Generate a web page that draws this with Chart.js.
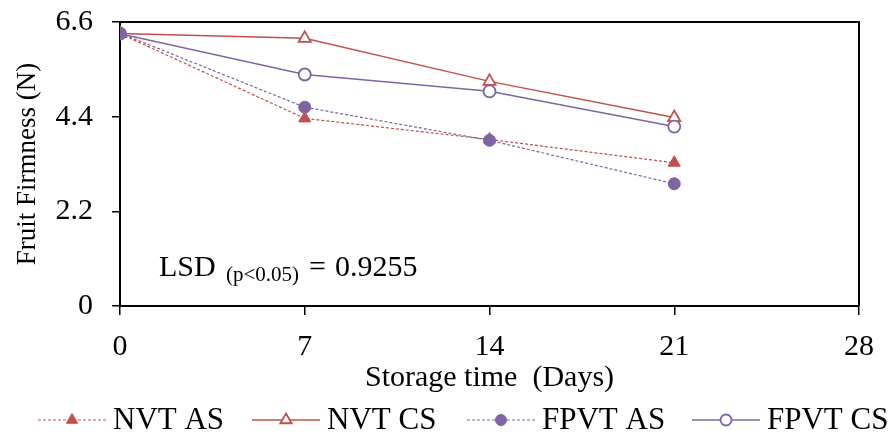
<!DOCTYPE html>
<html>
<head>
<meta charset="utf-8">
<script src="https://cdn.jsdelivr.net/npm/chart.js@4.4.1/dist/chart.umd.min.js"></script>
<style>
  html, body { margin: 0; padding: 0; background: #fff; }
  #wrap { width: 890px; height: 436px; position: relative; }
</style>
</head>
<body>
<div id="wrap"><canvas id="firmness"></canvas></div>
<script>
// Storage days and firmness readings (N)
const days = [0, 7, 14, 21];
const nvtAS = [6.33, 4.36, 3.87, 3.33];
const nvtCS = [6.33, 6.22, 5.22, 4.38];
const fpvtAS = [6.34, 4.62, 3.85, 2.84];
const fpvtCS = [6.33, 5.38, 4.99, 4.17];
const seriesNames = ['NVT AS', 'NVT CS', 'FPVT AS', 'FPVT CS'];
const yTicks = [0, 2.2, 4.4, 6.6];
const xTicks = [0, 7, 14, 21, 28];

const RED = '#C0504D';
const PURPLE = '#8064A2';
const FONT = "'Liberation Serif', 'Times New Roman', serif";

const toXY = vals => vals.map((v, i) => ({ x: days[i], y: v }));

const datasets = [
    {
        label: seriesNames[0], data: toXY(nvtAS), order: 2,
        borderColor: RED, borderWidth: 1.2, borderDash: [3, 2],
        pointStyle: 'triangle', pointRadius: 7, pointBackgroundColor: RED, pointBorderColor: RED, pointBorderWidth: 1
    },
    {
        label: seriesNames[1], data: toXY(nvtCS), order: 3,
        borderColor: RED, borderWidth: 1.5,
        pointStyle: 'triangle', pointRadius: 7, pointBackgroundColor: '#fff', pointBorderColor: RED, pointBorderWidth: 1.8
    },
    {
        label: seriesNames[2], data: toXY(fpvtAS), order: 0,
        borderColor: PURPLE, borderWidth: 1.2, borderDash: [3, 2],
        pointStyle: 'circle', pointRadius: 6, pointBackgroundColor: PURPLE, pointBorderColor: PURPLE, pointBorderWidth: 1
    },
    {
        label: seriesNames[3], data: toXY(fpvtCS), order: 1,
        borderColor: PURPLE, borderWidth: 1.5,
        pointStyle: 'circle', pointRadius: 6, pointBackgroundColor: '#fff', pointBorderColor: PURPLE, pointBorderWidth: 1.8
    }
];

// frame on top/right, LSD note and legend row
const extras = {
    id: 'extras',
    afterDraw(chart) {
        const { ctx, chartArea: a } = chart;
        ctx.save();
        ctx.strokeStyle = '#000';
        ctx.lineWidth = 2;
        ctx.beginPath();
        ctx.moveTo(a.left, a.top);
        ctx.lineTo(a.right, a.top);
        ctx.lineTo(a.right, a.bottom);
        ctx.stroke();

        // LSD annotation
        ctx.fillStyle = '#000';
        ctx.textBaseline = 'alphabetic';
        ctx.textAlign = 'left';
        const base = 276;
        ctx.font = '30px ' + FONT;
        ctx.fillText('LSD', 159, base);
        ctx.fillText('=', 309, base);
        ctx.fillText('0.9255', 335, base);
        ctx.font = '21px ' + FONT;
        ctx.fillText('(p<0.05)', 226, base + 5);

        // legend
        const legendX = [38, 252, 467, 692];
        const ly = 420;
        chart.data.datasets.forEach((ds, i) => {
            const lx = legendX[i];
            ctx.strokeStyle = ds.borderColor;
            ctx.lineWidth = ds.borderDash ? 1.2 : 1.5;
            ctx.setLineDash(ds.borderDash || []);
            ctx.beginPath();
            ctx.moveTo(lx, ly);
            ctx.lineTo(lx + 68, ly);
            ctx.stroke();
            ctx.setLineDash([]);
            ctx.fillStyle = ds.pointBackgroundColor;
            ctx.strokeStyle = ds.pointBorderColor;
            ctx.lineWidth = ds.pointBorderWidth;
            Chart.helpers.drawPoint(ctx, {
                pointStyle: ds.pointStyle,
                radius: ds.pointStyle === 'triangle' ? 6.5 : 5.5,
                borderWidth: ds.pointBorderWidth,
                rotation: 0
            }, lx + 34, ly);
            ctx.fillStyle = '#000';
            ctx.font = '31px ' + FONT;
            ctx.textBaseline = 'middle';
            ctx.fillText(ds.label, lx + 75, ly + 1);
        });
        ctx.restore();
    }
};

// ignore label overflow so the plot box sits where the padding says
const noOverflow = s => {
    s.paddingTop = 0;
    s.paddingBottom = 0;
    s.paddingLeft = 0;
    s.paddingRight = 0;
};

new Chart(document.getElementById('firmness'), {
    type: 'line',
    data: { datasets },
    plugins: [extras],
    options: {
        responsive: true,
        maintainAspectRatio: false,
        animation: false,
        layout: { padding: { top: 22, right: 31, bottom: 40, left: 0 } },
        plugins: { legend: { display: false }, tooltip: { enabled: false } },
        scales: {
            x: {
                type: 'linear',
                min: 0, max: 28,
                afterFit: s => { s.height = 90; noOverflow(s); },
                afterBuildTicks: s => { s.ticks = xTicks.map(v => ({ value: v })); },
                grid: { drawOnChartArea: false, tickLength: 9, color: '#000', lineWidth: 1.5 },
                border: { color: '#000', width: 2 },
                ticks: { color: '#000', font: { family: FONT, size: 30 }, padding: 14, maxRotation: 0 },
                title: { display: true, text: 'Storage time  (Days)', color: '#000', font: { family: FONT, size: 30 }, padding: { top: 0, bottom: 0 } }
            },
            y: {
                min: 0, max: 6.6,
                afterFit: s => { s.width = 120; noOverflow(s); },
                afterBuildTicks: s => { s.ticks = yTicks.map(v => ({ value: v })); },
                grid: { drawOnChartArea: false, tickLength: 8, color: '#000', lineWidth: 1.5 },
                border: { color: '#000', width: 2 },
                ticks: { color: '#000', font: { family: FONT, size: 30 }, padding: 19, callback: v => (v === 0 ? '0' : v.toFixed(1)) },
                title: { display: true, text: 'Fruit Firmness (N)', color: '#000', font: { family: FONT, size: 27 }, padding: { top: 12, bottom: 0 } }
            }
        }
    }
});
</script>
</body>
</html>
